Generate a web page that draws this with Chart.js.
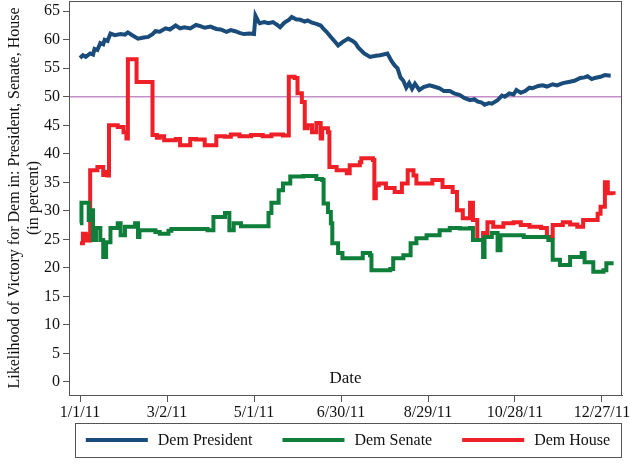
<!DOCTYPE html>
<html>
<head>
<meta charset="utf-8">
<script src="https://cdn.jsdelivr.net/npm/chart.js@4.4.1/dist/chart.umd.min.js"></script>
<style>
    html, body { margin: 0; padding: 0; background: #fff; }
</style>
</head>
<body>
<canvas id="myChart" width="630" height="464"></canvas>
<script>
// days counted from 1/1/11
const tickDays = [0, 60, 120, 180, 240, 300, 360];
const tickLabels = ['1/1/11', '3/2/11', '5/1/11', '6/30/11', '8/29/11', '10/28/11', '12/27/11'];
const yTicks = [0, 5, 10, 15, 20, 25, 30, 35, 40, 45, 50, 55, 60, 65];
const refLevel = 50;

const presDays = [0, 2, 4, 7, 9, 10, 12, 14, 16, 17, 19, 21, 24, 28, 31, 33, 36, 40, 44, 47, 50, 52, 55, 59, 62, 66, 69, 72, 76, 80, 83, 86, 90, 94, 97, 101, 104, 107, 110, 113, 117, 120, 121, 123, 124, 127, 130, 133, 136, 138, 141, 144, 146, 149, 152, 155, 157, 160, 163, 166, 168, 170, 173, 176, 178, 181, 185, 188, 190, 192, 196, 200, 204, 207, 212, 215, 217, 219, 221, 223, 225, 227, 229, 231, 234, 237, 241, 244, 248, 251, 255, 258, 262, 265, 269, 272, 274, 277, 279, 282, 284, 288, 291, 293, 296, 299, 301, 304, 307, 310, 312, 316, 319, 322, 326, 329, 333, 337, 341, 345, 348, 350, 353, 355, 359, 362, 366];
const presVals = [56.8, 57.3, 57.0, 57.6, 57.4, 58.4, 58.2, 59.4, 59.2, 60.0, 59.8, 61.1, 60.8, 61.0, 60.9, 61.3, 60.8, 60.2, 60.4, 60.5, 61.0, 61.5, 61.4, 62.0, 61.8, 62.5, 62.0, 62.2, 62.0, 62.6, 62.4, 62.1, 62.3, 61.9, 61.8, 61.4, 61.7, 61.5, 61.2, 61.0, 61.1, 61.0, 64.2, 63.2, 62.9, 63.1, 62.9, 63.1, 62.6, 62.2, 63.0, 63.5, 64.0, 63.6, 63.5, 63.2, 63.4, 63.0, 62.8, 62.5, 61.9, 61.4, 60.5, 59.6, 59.0, 59.6, 60.2, 59.8, 59.4, 58.6, 57.6, 57.0, 57.2, 57.3, 57.6, 56.2, 55.5, 55.0, 53.4, 52.8, 51.6, 52.4, 51.4, 52.3, 51.2, 51.7, 52.0, 51.8, 51.5, 51.0, 51.0, 50.6, 50.3, 49.8, 49.4, 49.6, 49.2, 49.0, 48.6, 48.9, 48.8, 49.4, 50.2, 50.0, 50.6, 50.4, 51.2, 50.7, 51.0, 51.6, 51.5, 51.9, 52.0, 51.8, 52.2, 52.0, 52.4, 52.6, 52.8, 53.3, 53.4, 53.6, 53.1, 53.3, 53.5, 53.8, 53.7];

const senateDays = [0, 1, 6, 8, 9, 11, 14, 16, 18, 21, 26, 28, 31, 38, 40, 41, 52, 55, 61, 63, 88, 92, 100, 103, 106, 111, 130, 132, 137, 140, 145, 154, 163, 167, 168, 171, 173, 174, 178, 181, 195, 200, 201, 214, 216, 223, 228, 232, 239, 248, 255, 262, 269, 271, 276, 278, 279, 284, 288, 290, 306, 319, 323, 326, 331, 338, 346, 348, 354, 361, 363, 368];
const senateVals = [27.8, 31.4, 28.4, 30.1, 24.9, 27.0, 24.9, 21.9, 24.5, 27.0, 27.8, 25.7, 27.2, 27.8, 25.4, 26.6, 26.3, 26.0, 26.5, 26.8, 26.6, 28.9, 29.6, 26.6, 27.8, 27.3, 29.6, 31.4, 33.6, 34.8, 36.0, 36.1, 35.6, 35.4, 31.3, 29.8, 27.8, 24.3, 22.6, 21.7, 22.6, 22.2, 19.6, 19.8, 21.7, 22.2, 24.3, 25.2, 25.7, 26.6, 27.0, 26.9, 27.0, 24.9, 24.9, 21.9, 25.4, 26.1, 23.1, 25.7, 25.4, 25.4, 24.9, 21.4, 20.5, 21.9, 22.6, 21.0, 19.3, 19.6, 20.8, 20.8];

const houseDays = [0, 2, 4, 5, 6, 7, 12, 16, 18, 19, 20, 26, 30, 32, 33, 39, 50, 53, 55, 58, 66, 69, 76, 80, 86, 94, 100, 104, 110, 118, 126, 132, 140, 144, 148, 150, 153, 155, 157, 160, 163, 166, 167, 171, 172, 177, 184, 186, 193, 194, 202, 203, 204, 206, 211, 217, 222, 226, 230, 232, 239, 243, 250, 257, 260, 264, 269, 271, 274, 278, 281, 285, 292, 299, 304, 310, 318, 322, 326, 333, 338, 343, 347, 355, 357, 359, 362, 364, 368];
const houseVals = [24.3, 26.0, 24.8, 25.8, 24.8, 37.1, 37.7, 36.3, 36.8, 36.2, 45.0, 44.7, 43.8, 42.7, 56.6, 52.6, 43.3, 42.8, 43.1, 42.4, 42.6, 41.5, 42.6, 42.5, 41.5, 43.1, 43.0, 43.4, 43.1, 43.3, 43.1, 43.4, 43.2, 53.5, 53.3, 50.6, 49.1, 44.5, 45.0, 43.8, 45.4, 42.7, 44.5, 43.8, 37.7, 37.1, 36.6, 38.0, 38.5, 39.2, 38.9, 32.2, 34.5, 34.8, 34.0, 33.3, 34.8, 37.1, 36.2, 34.8, 34.8, 35.4, 34.2, 33.3, 30.1, 28.7, 31.4, 28.4, 24.9, 26.1, 28.0, 27.2, 27.8, 28.0, 27.5, 27.2, 27.0, 25.4, 27.5, 28.0, 27.6, 27.2, 28.4, 28.4, 29.5, 30.7, 35.0, 33.1, 32.8];

const xMin = -7.6;
const xMax = 373.8;
const serif = "'Liberation Serif', 'Times New Roman', serif";

function toPoints(days, vals) {
    return days.map((d, i) => ({ x: d, y: vals[i] }));
}

// the labels hang past the plot edges; don't let them push the plot inwards
function noOverhang(s) {
    s.paddingTop = 0;
    s.paddingBottom = 0;
    s.paddingLeft = 0;
    s.paddingRight = 0;
}

// text "Date" sits inside the plot, plus the box around it
const framePlugin = {
    id: 'frame',
    afterDraw(chart) {
        let ctx = chart.ctx;
        let area = chart.chartArea;
        ctx.save();
        ctx.strokeStyle = '#555';
        ctx.lineWidth = 1;
        ctx.strokeRect(area.left + 0.5, area.top + 0.5, area.right - area.left - 1, area.bottom - area.top);
        ctx.fillStyle = '#111';
        ctx.font = '17px ' + serif;
        ctx.textAlign = 'center';
        ctx.textBaseline = 'middle';
        ctx.fillText('Date', (area.left + area.right) / 2, area.bottom - 16);
        ctx.restore();
    }
};

// boxed legend at the bottom
const boxLegendPlugin = {
    id: 'boxLegend',
    afterDraw(chart) {
        let ctx = chart.ctx;
        let sets = chart.data.datasets.filter(ds => ds.label);
        let lineLen = 62, gapText = 10, gapItem = 30;
        ctx.save();
        ctx.font = '16px ' + serif;
        let total = 0;
        sets.forEach((ds, i) => {
            total += lineLen + gapText + ctx.measureText(ds.label).width;
            if (i > 0) total += gapItem;
        });
        let boxLeft = 75, boxRight = 621, boxTop = 423, boxBottom = 457;
        ctx.strokeStyle = '#555';
        ctx.lineWidth = 1;
        ctx.strokeRect(boxLeft + 0.5, boxTop + 0.5, boxRight - boxLeft, boxBottom - boxTop);
        let x = (boxLeft + boxRight - total) / 2;
        let y = (boxTop + boxBottom) / 2;
        ctx.textBaseline = 'middle';
        ctx.textAlign = 'left';
        sets.forEach(ds => {
            ctx.strokeStyle = ds.borderColor;
            ctx.lineWidth = 4;
            ctx.beginPath();
            ctx.moveTo(x, y);
            ctx.lineTo(x + lineLen, y);
            ctx.stroke();
            x += lineLen + gapText;
            ctx.fillStyle = '#111';
            ctx.fillText(ds.label, x, y + 1);
            x += ctx.measureText(ds.label).width + gapItem;
        });
        ctx.restore();
    }
};

let ctx = document.getElementById('myChart').getContext('2d');
new Chart(ctx, {
    type: 'line',
    data: {
        datasets: [
            {
                label: 'Dem President',
                data: toPoints(presDays, presVals),
                borderColor: '#194b7b',
                borderWidth: 4,
                pointRadius: 0,
                tension: 0
            },
            {
                label: 'Dem Senate',
                data: toPoints(senateDays, senateVals),
                borderColor: '#0f7e3b',
                borderWidth: 4,
                pointRadius: 0,
                stepped: true
            },
            {
                label: 'Dem House',
                data: toPoints(houseDays, houseVals),
                borderColor: '#ee1f26',
                borderWidth: 4,
                pointRadius: 0,
                stepped: true
            },
            {
                label: '',
                data: [{ x: xMin, y: refLevel }, { x: xMax, y: refLevel }],
                borderColor: '#c48fc9',
                borderWidth: 1.5,
                pointRadius: 0
            }
        ]
    },
    options: {
        responsive: false,
        animation: false,
        devicePixelRatio: 1,
        layout: { padding: { top: 1, right: 8, bottom: 40, left: 0 } },
        plugins: {
            legend: { display: false },
            tooltip: { enabled: false }
        },
        scales: {
            x: {
                type: 'linear',
                min: xMin,
                max: xMax,
                afterBuildTicks: s => { s.ticks = tickDays.map(v => ({ value: v })); },
                afterFit: s => { s.height = 29; noOverhang(s); },
                ticks: {
                    callback: v => tickLabels[tickDays.indexOf(v)],
                    font: { family: serif, size: 16 },
                    color: '#111',
                    maxRotation: 0,
                    autoSkip: false,
                    padding: 1
                },
                grid: { drawOnChartArea: false, tickLength: 7, color: '#555' },
                border: { color: '#555' }
            },
            y: {
                type: 'linear',
                min: -2.3,
                max: 66.8,
                afterBuildTicks: s => { s.ticks = yTicks.map(v => ({ value: v })); },
                afterFit: s => { s.width = 69; noOverhang(s); },
                ticks: {
                    font: { family: serif, size: 16 },
                    color: '#111',
                    padding: 3
                },
                grid: { drawOnChartArea: false, tickLength: 6, color: '#555' },
                border: { color: '#555' },
                title: {
                    display: true,
                    text: ['Likelihood of Victory for Dem in: President, Senate, House', '(in percent)'],
                    font: { family: serif, size: 16 },
                    color: '#111',
                    padding: { top: 5, bottom: 0 }
                }
            }
        }
    },
    plugins: [framePlugin, boxLegendPlugin]
});
</script>
</body>
</html>
